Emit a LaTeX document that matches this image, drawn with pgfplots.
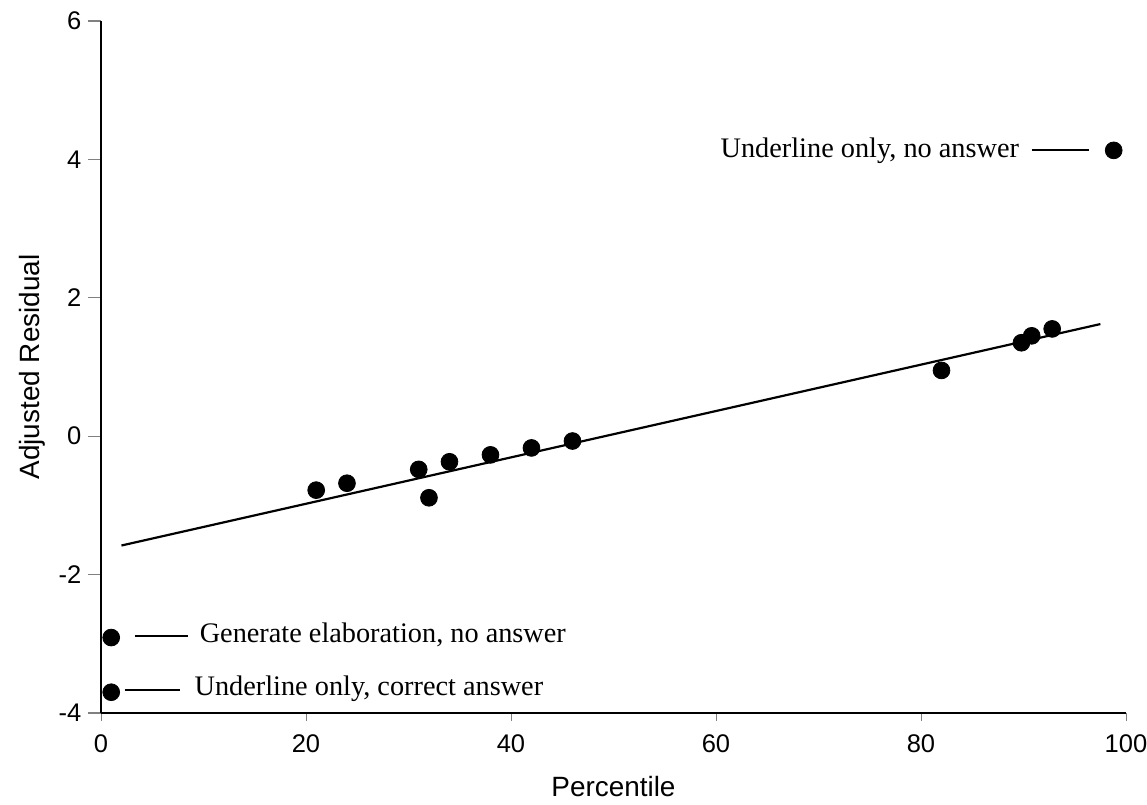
\documentclass[border=0pt]{standalone}
\usepackage{fontspec}
\setmainfont{Liberation Serif}
\setsansfont{Liberation Sans}
\usepackage{pgfplots}
\pgfplotsset{compat=1.18}

% plotted residuals
\pgfplotstableread{
x     y
21.0  -0.78
24.0  -0.68
31.0  -0.48
32.0  -0.89
34.0  -0.37
38.0  -0.27
42.0  -0.17
46.0  -0.07
82.0   0.95
89.8   1.35
90.8   1.45
92.8   1.55
98.8   4.13
1.0   -2.91
1.0   -3.70
}\resid

\begin{document}
\begin{tikzpicture}
\begin{axis}[
    width=512.5bp, height=346bp,
    scale only axis,
    axis lines=left,
    axis line style={-, line width=0.6pt},
    xmin=0, xmax=100,
    ymin=-4, ymax=6,
    xtick={0,20,...,100},
    ytick={-4,-2,...,6},
    tick align=outside,
    ytick style={line width=0.6pt, /pgfplots/major tick length=6.5bp},
    xtick style={line width=0.4pt, gray, /pgfplots/major tick length=4bp},
    /pgf/number format/assume math mode=true,
    ticklabel style={font=\sffamily\fontsize{12.8}{15}\selectfont},
    yticklabel style={xshift=-2bp},
    xticklabel style={yshift=-3bp},
    xlabel={Percentile},
    ylabel={Adjusted Residual},
    label style={font=\sffamily\fontsize{14}{16}\selectfont},
    xlabel style={yshift=-5bp},
    clip=false,
]
\addplot[black, line width=1.1pt] coordinates {(2,-1.58) (97.5,1.62)};
\addplot[only marks, mark=*, mark size=4.2bp, black] table {\resid};

% annotation leaders and labels
\draw[line width=0.9pt] (axis cs:90.8,4.13) -- (axis cs:96.4,4.13);
\node[anchor=east, font=\fontsize{14.2}{16}\selectfont, inner sep=0pt] at (axis cs:89.6,4.13) {Underline only, no answer};
\draw[line width=0.9pt] (axis cs:3.3,-2.89) -- (axis cs:8.5,-2.89);
\node[anchor=west, font=\fontsize{14.2}{16}\selectfont, inner sep=0pt] at (axis cs:9.6,-2.87) {Generate elaboration, no answer};
\draw[line width=0.9pt] (axis cs:2.3,-3.67) -- (axis cs:7.7,-3.67);
\node[anchor=west, font=\fontsize{14.2}{16}\selectfont, inner sep=0pt] at (axis cs:9.1,-3.65) {Underline only, correct answer};

\coordinate (bl) at (rel axis cs:-0.0985,-0.1329);
\coordinate (tr) at (rel axis cs:1.0205,1.0303);
\end{axis}
\pgfresetboundingbox
\path (bl) rectangle (tr);
\end{tikzpicture}
\end{document}
